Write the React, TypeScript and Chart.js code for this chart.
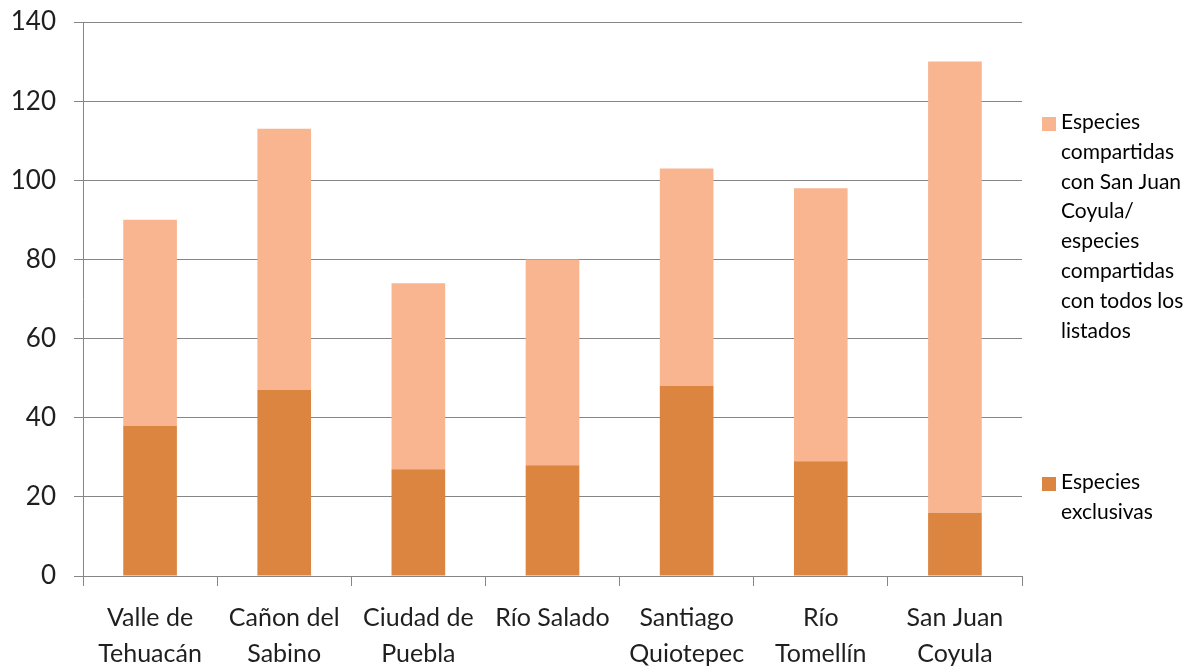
import React, { useEffect, useRef } from "react";
import { Chart, registerables } from "chart.js";

Chart.register(...registerables);

const categories: (string | string[])[] = [
  ["Valle de", "Tehuacán"],
  ["Cañon del", "Sabino"],
  ["Ciudad de", "Puebla"],
  "Río Salado",
  ["Santiago", "Quiotepec"],
  ["Río", "Tomellín"],
  ["San Juan", "Coyula"],
];

const exclusivas = [38, 47, 27, 28, 48, 29, 16];
const compartidas = [52, 66, 47, 52, 55, 69, 114];

const labelExclusivas = "Especies exclusivas";
const labelCompartidas =
  "Especies compartidas con San Juan Coyula/ especies compartidas con todos los listados";

const yMin = 0;
const yMax = 140;
const yStep = 20;

const DARK = "#DB8540";
const LIGHT = "#F9B590";
const GRID = "#868686";
const TEXT = "#1f1f1f";
const FONT = "Lato";

const legendPlugin = {
  id: "sideLegend",
  afterDraw(chart: any) {
    const ctx = chart.ctx as CanvasRenderingContext2D;
    ctx.save();
    ctx.font = `21px ${FONT}`;
    ctx.textBaseline = "alphabetic";
    ctx.textAlign = "left";
    const maxW = 128;
    const lineH = 29.8;
    const items = [
      { ds: 1, baseline: 129 },
      { ds: 0, baseline: 489 },
    ];
    for (const it of items) {
      const ds = chart.data.datasets[it.ds];
      ctx.fillStyle = ds.backgroundColor;
      ctx.fillRect(1042, it.baseline - 12, 14, 14);
      const words = String(ds.label).split(" ");
      const lines: string[] = [];
      let cur = "";
      for (const w of words) {
        const test = cur ? cur + " " + w : w;
        if (ctx.measureText(test).width > maxW && cur) {
          lines.push(cur);
          cur = w;
        } else cur = test;
      }
      if (cur) lines.push(cur);
      ctx.fillStyle = "#000";
      lines.forEach((l, i) => ctx.fillText(l, 1061, it.baseline + i * lineH));
    }
    ctx.restore();
  },
};

export default function App() {
  const ref = useRef<HTMLCanvasElement>(null);
  useEffect(() => {
    if (!ref.current) return;
    const chart = new Chart(ref.current, {
      type: "bar",
      data: {
        labels: categories,
        datasets: [
          {
            label: labelExclusivas,
            data: exclusivas,
            backgroundColor: DARK,
            barPercentage: 0.4,
            categoryPercentage: 1,
          },
          {
            label: labelCompartidas,
            data: compartidas,
            backgroundColor: LIGHT,
            barPercentage: 0.4,
            categoryPercentage: 1,
          },
        ],
      },
      options: {
        responsive: false,
        animation: false,
        devicePixelRatio: 1,
        layout: { padding: { left: 0, right: 171, top: 22, bottom: 0 } },
        plugins: {
          legend: { display: false },
          tooltip: { enabled: false },
        },
        scales: {
          x: {
            stacked: true,
            grid: {
              offset: true,
              drawOnChartArea: false,
              drawTicks: true,
              tickLength: 10,
              color: GRID,
            },
            border: { color: GRID },
            ticks: {
              color: TEXT,
              font: { family: FONT, size: 25, lineHeight: 1.45 },
              padding: 14,
              maxRotation: 0,
              autoSkip: false,
            },
            afterFit(scale: any) {
              scale.height = 93;
              scale.paddingLeft = 0;
              scale.paddingRight = 0;
            },
          },
          y: {
            stacked: true,
            min: yMin,
            max: yMax,
            ticks: {
              stepSize: yStep,
              color: TEXT,
              font: { family: FONT, size: 26 },
              padding: 18,
            },
            grid: { color: GRID, tickLength: 9 },
            border: { color: GRID },
            afterFit(scale: any) {
              scale.width = 83;
              scale.paddingTop = 0;
              scale.paddingBottom = 0;
            },
          },
        },
      },
      plugins: [legendPlugin],
    });
    return () => chart.destroy();
  }, []);
  return (
    <div style={{ position: "absolute", left: 0, top: 0, width: 1193, height: 669, background: "#fff" }}>
      <canvas ref={ref} width={1193} height={669} style={{ width: 1193, height: 669 }} />
    </div>
  );
}
